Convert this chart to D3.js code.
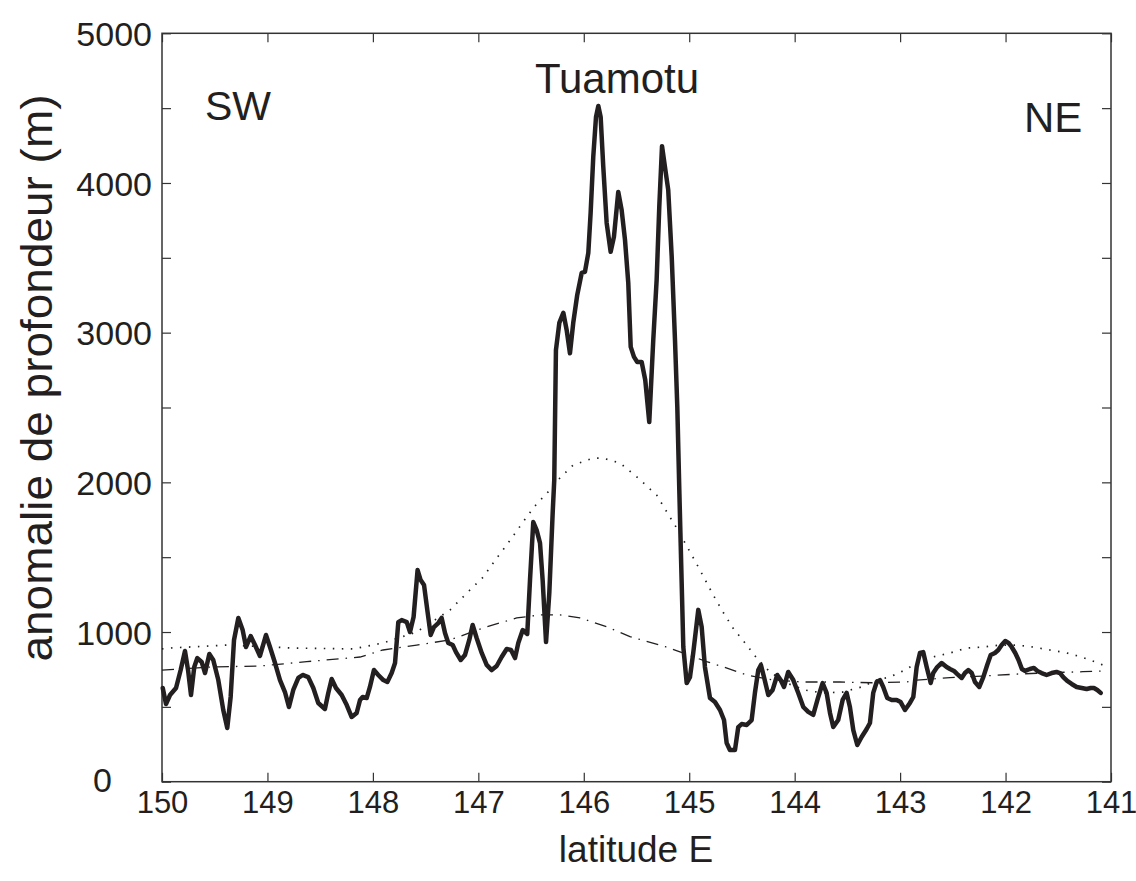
<!DOCTYPE html>
<html>
<head>
<meta charset="utf-8">
<script src="https://cdn.jsdelivr.net/npm/d3@7"></script>
<style>
  body { margin: 0; background: #fff; }
  svg text { font-family: "Liberation Sans", Arial, sans-serif; fill: #231f20; }
</style>
</head>
<body>
<div id="graphic"></div>
<script>
// profile (thick line): longitude, depth anomaly (m)
const lon = [149.993, 149.962, 149.924, 149.867, 149.823, 149.782, 149.753, 149.725, 149.694, 149.665,
  149.624, 149.592, 149.551, 149.514, 149.466, 149.419, 149.381, 149.349, 149.317, 149.276,
  149.235, 149.203, 149.159, 149.118, 149.071, 149.014, 148.976, 148.928, 148.881, 148.834,
  148.796, 148.755, 148.707, 148.666, 148.613, 148.565, 148.518, 148.455, 148.423, 148.391,
  148.350, 148.296, 148.248, 148.201, 148.154, 148.122, 148.097, 148.059, 148.028, 147.990,
  147.949, 147.901, 147.863, 147.822, 147.790, 147.759, 147.727, 147.679, 147.648, 147.614,
  147.576, 147.547, 147.515, 147.484, 147.452, 147.421, 147.380, 147.348, 147.316, 147.285,
  147.243, 147.212, 147.167, 147.127, 147.086, 147.054, 147.016, 146.968, 146.921, 146.873,
  146.826, 146.779, 146.731, 146.690, 146.652, 146.621, 146.579, 146.536, 146.510, 146.479,
  146.447, 146.415, 146.390, 146.358, 146.327, 146.295, 146.280, 146.264, 146.232, 146.194,
  146.162, 146.131, 146.100, 146.062, 146.020, 145.989, 145.957, 145.935, 145.910, 145.884,
  145.862, 145.840, 145.815, 145.783, 145.745, 145.714, 145.673, 145.641, 145.609, 145.578,
  145.555, 145.524, 145.493, 145.451, 145.417, 145.379, 145.341, 145.309, 145.284, 145.258,
  145.230, 145.199, 145.166, 145.135, 145.113, 145.094, 145.056, 145.024, 144.993, 144.962,
  144.914, 144.882, 144.851, 144.803, 144.756, 144.708, 144.670, 144.645, 144.614, 144.566,
  144.535, 144.503, 144.455, 144.408, 144.377, 144.345, 144.320, 144.291, 144.250, 144.209,
  144.165, 144.133, 144.101, 144.061, 144.013, 143.966, 143.918, 143.871, 143.824, 143.776,
  143.735, 143.697, 143.665, 143.634, 143.587, 143.545, 143.507, 143.476, 143.444, 143.406,
  143.365, 143.317, 143.286, 143.255, 143.222, 143.191, 143.160, 143.122, 143.080, 143.033,
  142.995, 142.954, 142.907, 142.875, 142.843, 142.812, 142.781, 142.748, 142.710, 142.686,
  142.648, 142.606, 142.559, 142.527, 142.489, 142.458, 142.416, 142.385, 142.354, 142.321,
  142.290, 142.249, 142.211, 142.174, 142.141, 142.101, 142.069, 142.037, 142.003, 141.972,
  141.942, 141.908, 141.877, 141.845, 141.816, 141.769, 141.731, 141.699, 141.658, 141.611,
  141.563, 141.516, 141.484, 141.453, 141.415, 141.373, 141.326, 141.278, 141.231, 141.193,
  141.162, 141.130, 141.098]
const depth = [626, 519, 579, 626, 746, 873, 746, 579, 766, 826,
  800, 726, 853, 813, 679, 479, 359, 566, 947, 1094,
  1013, 900, 973, 913, 840, 980, 900, 793, 679, 599,
  499, 613, 693, 713, 699, 626, 526, 486, 593, 686,
  626, 579, 512, 432, 459, 546, 566, 559, 633, 746,
  713, 679, 666, 726, 793, 1066, 1080, 1066, 1000, 1100,
  1414, 1347, 1314, 1147, 980, 1033, 1060, 1094, 993, 927,
  913, 866, 813, 846, 947, 1047, 960, 860, 780, 746,
  773, 833, 887, 880, 826, 927, 1013, 987, 1347, 1735,
  1681, 1594, 1347, 933, 1260, 1795, 2015, 2884, 3065, 3133,
  3016, 2862, 3065, 3252, 3399, 3406, 3533, 3800, 4174, 4441,
  4514, 4441, 4107, 3733, 3540, 3640, 3940, 3820, 3619, 3332,
  2905, 2838, 2804, 2804, 2684, 2403, 2951, 3352, 3840, 4246,
  4107, 3953, 3506, 2951, 2504, 1949, 900, 659, 699, 860,
  1148, 1034, 766, 559, 532, 479, 412, 259, 212, 212,
  365, 385, 379, 412, 593, 746, 780, 699, 579, 613,
  713, 679, 633, 733, 679, 593, 499, 466, 446, 566,
  659, 593, 459, 365, 412, 546, 593, 499, 345, 245,
  299, 352, 392, 593, 666, 679, 633, 559, 546, 546,
  532, 479, 526, 566, 766, 860, 866, 766, 659, 726,
  766, 793, 766, 753, 740, 719, 693, 726, 746, 726,
  666, 633, 699, 780, 846, 860, 880, 913, 940, 927,
  900, 860, 813, 753, 740, 753, 760, 740, 726, 713,
  726, 733, 726, 699, 673, 653, 633, 626, 619, 626,
  626, 613, 593]

// dotted model curve
const dotLon = [150.000, 149.924, 149.386, 148.758, 148.189, 147.904, 147.585, 147.269, 147.079, 146.956,
  146.826, 146.731, 146.574, 146.463, 146.340, 146.226, 146.102, 145.913, 145.818, 145.657,
  145.495, 145.309, 145.214, 145.119, 144.993, 144.898, 144.772, 144.680, 144.585, 144.471,
  144.360, 144.234, 144.076, 143.902, 143.735, 143.546, 143.365, 143.222, 143.096, 142.954,
  142.843, 142.689, 142.527, 142.369, 142.214, 142.053, 141.895, 141.740, 141.579, 141.421,
  141.278, 141.121, 141.057]
const dotDepth = [887, 893, 913, 893, 887, 927, 1000, 1147, 1281, 1365,
  1494, 1581, 1737, 1842, 1935, 2029, 2115, 2162, 2162, 2129,
  2035, 1915, 1804, 1695, 1536, 1414, 1247, 1134, 1027, 927,
  826, 733, 659, 612, 593, 599, 633, 679, 700, 746,
  793, 833, 860, 893, 900, 913, 913, 900, 880, 860,
  833, 793, 773]

// dash-dot model curve
const dashLon = [150.000, 149.545, 149.071, 148.628, 148.122, 147.904, 147.585, 147.269, 146.956, 146.636,
  146.415, 146.226, 146.036, 145.783, 145.562, 145.226, 145.088, 144.835, 144.680, 144.455,
  144.206, 143.922, 143.571, 143.257, 142.938, 142.843, 142.527, 142.214, 141.895, 141.579,
  141.266, 141.057]
const dashDepth = [746, 766, 773, 802, 833, 880, 913, 947, 1027, 1094,
  1114, 1114, 1094, 1035, 969, 902, 868, 802, 768, 713,
  679, 666, 666, 661, 666, 679, 695, 706, 719, 728,
  735, 740]

const xTicks = [150, 149, 148, 147, 146, 145, 144, 143, 142, 141]
const yTicks = [0, 500, 1000, 1500, 2000, 2500, 3000, 3500, 4000, 4500, 5000]

const W = 1136, H = 881
const margin = { top: 33.3, right: 25, bottom: 99.3, left: 162 }
const width = W - margin.left - margin.right
const height = H - margin.top - margin.bottom

let svg = d3.select("#graphic").append("svg")
  .attr("width", W)
  .attr("height", H)

let g = svg.append("g")
  .attr("transform", "translate(" + margin.left + "," + margin.top + ")")

let x = d3.scaleLinear().domain([150, 141]).range([0, width])
let y = d3.scaleLinear().domain([0, 5000]).range([height, 0])

const axisColor = "#333"
const fmtY = d => (d % 1000 === 0 ? d : "")

// bottom / top
let xb = g.append("g").attr("transform", "translate(0," + height + ")")
  .call(d3.axisBottom(x).tickValues(xTicks).tickSize(-9).tickPadding(9).tickFormat(d3.format("d")))
let xt = g.append("g")
  .call(d3.axisTop(x).tickValues(xTicks).tickSize(-9).tickFormat(""))
let yl = g.append("g")
  .call(d3.axisLeft(y).tickValues(yTicks).tickSize(-9).tickPadding(10).tickFormat(fmtY))
let yr = g.append("g").attr("transform", "translate(" + width + ",0)")
  .call(d3.axisRight(y).tickValues(yTicks).tickSize(-9).tickFormat(""))

g.selectAll(".domain").remove()
g.selectAll(".tick line").attr("stroke", axisColor).attr("stroke-width", 1.2)
g.selectAll(".tick text").attr("fill", "#231f20").style("font-size", "34px")
xb.selectAll(".tick text").attr("dy", "0.71em").style("font-size", "31px")
yl.selectAll(".tick text").attr("dy", "0.36em")
// the "0" label sits further left, clear of "150"
yl.selectAll(".tick text").filter(d => d === 0).attr("x", -50).attr("dy", "0.3em")

g.append("rect")
  .attr("width", width)
  .attr("height", height)
  .attr("fill", "none")
  .attr("stroke", axisColor)
  .attr("stroke-width", 1.5)

// curves
let dotLine = d3.line().x(d => x(d[0])).y(d => y(d[1]))
g.append("path")
  .datum(dotLon.map((d, i) => [d, dotDepth[i]]))
  .attr("d", dotLine)
  .attr("fill", "none")
  .attr("stroke", "#231f20")
  .attr("stroke-width", 1.7)
  .attr("stroke-dasharray", "1.5,7.5")

g.append("path")
  .datum(dashLon.map((d, i) => [d, dashDepth[i]]))
  .attr("d", dotLine)
  .attr("fill", "none")
  .attr("stroke", "#231f20")
  .attr("stroke-width", 1.3)
  .attr("stroke-dasharray", "12,7,1.5,7")

g.append("path")
  .datum(lon.map((d, i) => [d, depth[i]]))
  .attr("d", dotLine)
  .attr("fill", "none")
  .attr("stroke", "#231f20")
  .attr("stroke-width", 4.5)
  .attr("stroke-linejoin", "round")
  .attr("stroke-linecap", "round")

// labels
g.append("text").attr("x", 43).attr("y", 87).text("SW")
  .style("font-size", "41px")
g.append("text").attr("x", 455).attr("y", 60).attr("text-anchor", "middle").text("Tuamotu")
  .style("font-size", "42px")
g.append("text").attr("x", 862).attr("y", 99).text("NE")
  .style("font-size", "42px")

svg.append("text")
  .attr("x", 636).attr("y", 862)
  .attr("text-anchor", "middle")
  .style("font-size", "37px")
  .text("latitude E")

svg.append("text")
  .attr("transform", "translate(52,378) rotate(-90)")
  .attr("text-anchor", "middle")
  .attr("textLength", 567)
  .attr("lengthAdjust", "spacingAndGlyphs")
  .style("font-size", "44px")
  .text("anomalie de profondeur (m)")
</script>
</body>
</html>
